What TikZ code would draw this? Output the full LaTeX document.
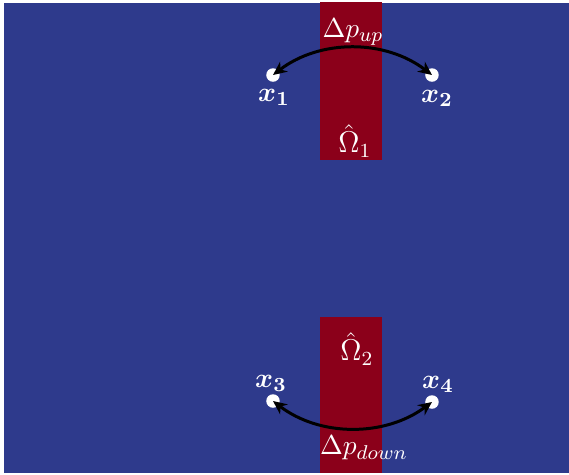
\documentclass[tikz,border=0pt]{standalone}
\usepackage{amsmath}
\usetikzlibrary{arrows.meta}
\definecolor{bgblue}{RGB}{46,58,140}
\definecolor{stripred}{RGB}{139,0,26}
\tikzset{
  dot/.style={circle,fill=white,inner sep=0pt,minimum size=5.4pt},
  lbl/.style={text=white,inner sep=0pt,font=\fontsize{10.95}{13}\selectfont},
  biglbl/.style={lbl,font=\fontsize{12}{14}\selectfont},
  arr/.style={line width=1.2pt,{Stealth[length=5.5pt,width=5pt]}-{Stealth[length=5.5pt,width=5pt]}},
}
\begin{document}
\begin{tikzpicture}[x=0.4pt,y=-0.4pt]
\useasboundingbox (0,0) rectangle (569,475);
\fill[white] (0,0) rectangle (569,475);
\fill[bgblue] (4,3) rectangle (569,473);
\fill[stripred] (320,2) rectangle (382,160);
\fill[stripred] (320,317) rectangle (382,473);
% points
\node[dot] (p1) at (273,75) {};
\node[dot] (p2) at (432,75) {};
\node[dot] (p3) at (273,401) {};
\node[dot] (p4) at (432,402) {};
% labels
\node[lbl] (l1) at (274,97) {$\boldsymbol{x_1}$};
\node[lbl] (l2) at (437,98) {$\boldsymbol{x_2}$};
\node[lbl] (l3) at (271,383) {$\boldsymbol{x_3}$};
\node[lbl] (l4) at (438,384) {$\boldsymbol{x_4}$};
\node[lbl] (dup) at (353,32) {$\Delta p_{up}$};
\node[biglbl] (o1) at (355,141) {$\hat{\Omega}_1$};
\node[biglbl] (o2) at (357,349) {$\hat{\Omega}_2$};
\node[lbl] (ddown) at (364,448) {$\Delta p_{down}$};
% arcs
\coordinate (c1) at (320,39);
\coordinate (c2) at (385,39);
\coordinate (c3) at (320,437);
\coordinate (c4) at (385,437);
\draw[arr] (p1.center) .. controls (c1) and (c2) .. (p2.center);
\draw[arr] (p3.center) .. controls (c3) and (c4) .. (p4.center);
\end{tikzpicture}
\end{document}
